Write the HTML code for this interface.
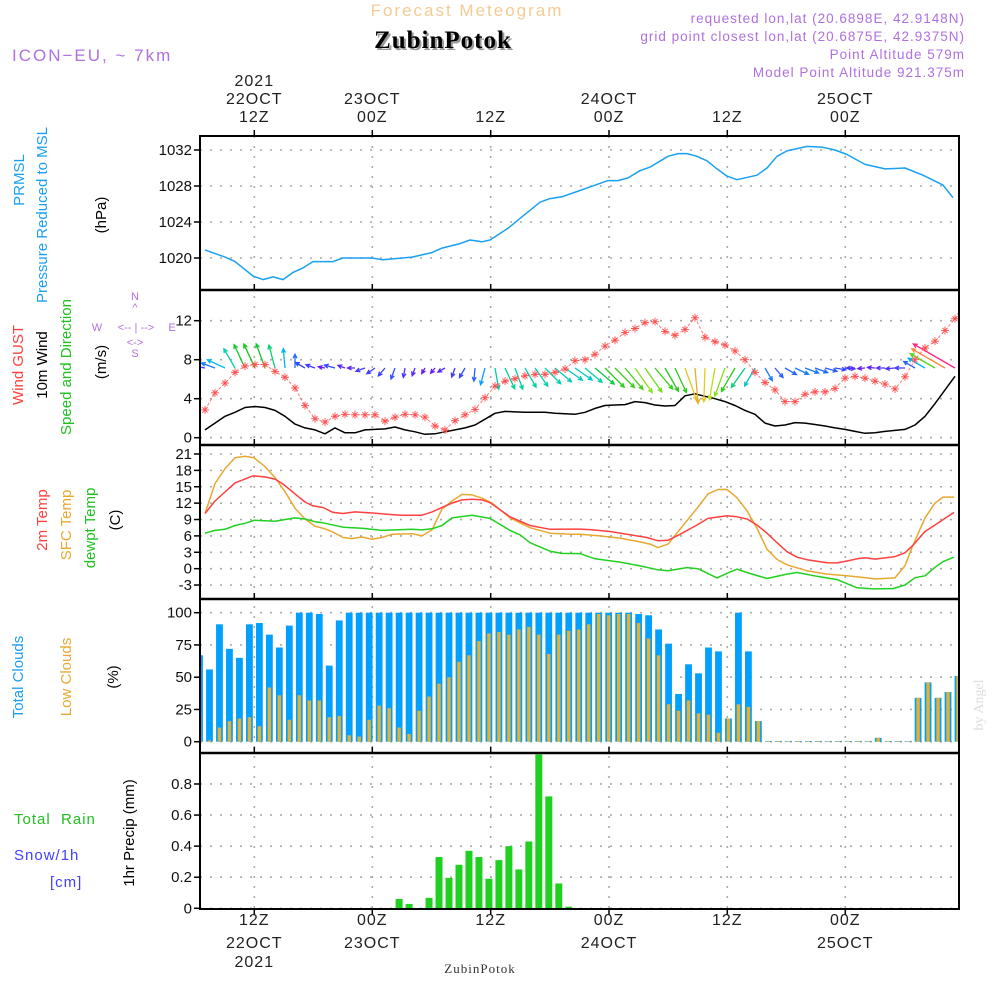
<!DOCTYPE html>
<html><head><meta charset="utf-8"><style>
html,body{margin:0;padding:0;background:#fff;}
svg{display:block;font-family:"Liberation Sans",sans-serif;}
</style></head><body>
<svg id="chart" width="1000" height="1000" viewBox="0 0 1000 1000" xmlns="http://www.w3.org/2000/svg">
<rect width="1000" height="1000" fill="#fff"/>
<g id="header">
<text x="467" y="16" text-anchor="middle" font-size="17" fill="#f3cc94" letter-spacing="2">Forecast Meteogram</text>
<text x="965" y="23" text-anchor="end" font-size="13.5" fill="#b070e0" letter-spacing="1">requested lon,lat (20.6898E, 42.9148N)</text>
<text x="965" y="41" text-anchor="end" font-size="13.5" fill="#b070e0" letter-spacing="1">grid point closest lon,lat (20.6875E, 42.9375N)</text>
<text x="445" y="50" text-anchor="middle" font-size="25" font-weight="bold" font-family="Liberation Serif,serif" fill="#999" letter-spacing="1">ZubinPotok</text>
<text x="443" y="48" text-anchor="middle" font-size="25" font-weight="bold" font-family="Liberation Serif,serif" fill="#000" letter-spacing="1">ZubinPotok</text>
<text x="965" y="59" text-anchor="end" font-size="13.5" fill="#b070e0" letter-spacing="1">Point Altitude 579m</text>
<text x="965" y="77" text-anchor="end" font-size="13.5" fill="#b070e0" letter-spacing="1">Model Point Altitude 921.375m</text>
<text x="12" y="61" font-size="17" fill="#b070e0" letter-spacing="2">ICON−EU, ~ 7km</text>
<text x="480" y="973" text-anchor="middle" font-size="13" font-family="Liberation Serif,serif" fill="#333" letter-spacing="1">ZubinPotok</text>
<text transform="translate(983,705) rotate(-90)" text-anchor="middle" font-size="14" font-family="Liberation Serif,serif" fill="#ddd">by Angel</text>
</g>
<g id="ylabels" font-size="15">
<text transform="translate(24,180) rotate(-90)" text-anchor="middle" fill="#1aa0f0">PRMSL</text>
<text transform="translate(47,215) rotate(-90)" text-anchor="middle" fill="#1aa0f0">Pressure Reduced to MSL</text>
<text transform="translate(106,215) rotate(-90)" text-anchor="middle" fill="#000">(hPa)</text>
<text transform="translate(23,365) rotate(-90)" text-anchor="middle" fill="#ff4040">Wind GUST</text>
<text transform="translate(47,365) rotate(-90)" text-anchor="middle" fill="#000">10m Wind</text>
<text transform="translate(71,367) rotate(-90)" text-anchor="middle" fill="#20c020">Speed and Direction</text>
<text transform="translate(106,362) rotate(-90)" text-anchor="middle" fill="#000">(m/s)</text>
<g font-size="11" fill="#b070e0" text-anchor="middle">
<text x="135" y="300">N</text><text x="135" y="311">^</text>
<text x="97" y="331">W</text><text x="136" y="331">&lt;-- | --&gt;</text><text x="172" y="331">E</text>
<text x="135" y="346">&lt;-&gt;</text><text x="135" y="357">S</text></g>
<text transform="translate(47,520) rotate(-90)" text-anchor="middle" fill="#ff4040">2m Temp</text>
<text transform="translate(71,525) rotate(-90)" text-anchor="middle" fill="#e8a830">SFC Temp</text>
<text transform="translate(95,528) rotate(-90)" text-anchor="middle" fill="#20c020">dewpt Temp</text>
<text transform="translate(120,520) rotate(-90)" text-anchor="middle" fill="#000">(C)</text>
<text transform="translate(23,677) rotate(-90)" text-anchor="middle" fill="#1aa0f0">Total Clouds</text>
<text transform="translate(71,677) rotate(-90)" text-anchor="middle" fill="#e8a830">Low Clouds</text>
<text transform="translate(118,677) rotate(-90)" text-anchor="middle" fill="#000">(%)</text>
<text x="14" y="824" fill="#20c020" letter-spacing="1" xml:space="preserve">Total  Rain</text>
<text x="14" y="860" fill="#4040ff" letter-spacing="1">Snow/1h</text>
<text x="50" y="887" fill="#4040ff" letter-spacing="1">[cm]</text>
<text transform="translate(134,833) rotate(-90)" text-anchor="middle" fill="#000">1hr Precip (mm)</text>
</g>
<g id="plot"></g>
</svg>
<script>
// ---- data ----
const tickTimes = [4.93, 16.73, 28.57, 40.4, 52.23, 64.03];
const tickHours = ["12Z","00Z","12Z","00Z","12Z","00Z"];
const tickDays = ["22OCT","23OCT","","24OCT","","25OCT"];
const tickYear = ["2021","","","","",""];

const pTimes = [0,2,3,4.8,5.8,6.8,7.8,8.8,9.8,10.8,12.8,13.8,16.7,17.8,20.7,22.7,23.7,25.5,26.5,27.7,28.5,30.3,31.5,33.5,34.5,35.7,37.5,38.5,40.3,41.3,42.3,43.5,44.5,46.3,47.3,48.2,49.2,50.2,51.2,52.2,53.2,55.2,56.2,57.2,58.2,60.2,61.8,63,64.2,66,68,70,71.8,73.8,74.8];
const pVals = [1020.9,1020.1,1019.6,1018.0,1017.6,1017.9,1017.6,1018.4,1018.9,1019.6,1019.6,1020.0,1020.0,1019.8,1020.1,1020.6,1021.1,1021.6,1022.0,1021.8,1022.0,1023.3,1024.4,1026.2,1026.6,1026.8,1027.5,1027.9,1028.6,1028.6,1028.9,1029.7,1030.1,1031.3,1031.6,1031.6,1031.3,1030.8,1029.9,1029.1,1028.7,1029.2,1030.0,1031.3,1031.9,1032.4,1032.3,1032.0,1031.5,1030.4,1029.9,1030.0,1029.2,1028.1,1026.7];
const pTicks = [1020,1024,1028,1032];

const windSpeed = [0.8,1.5,2.2,2.6,3.1,3.2,3.1,2.8,2.2,1.4,1.0,0.8,0.4,1.0,0.5,0.5,0.8,0.85,0.9,1.1,0.8,0.6,0.35,0.4,0.6,0.8,1.0,1.3,1.9,2.5,2.7,2.65,2.6,2.6,2.6,2.5,2.45,2.4,2.6,3.0,3.3,3.35,3.4,3.7,3.6,3.35,3.25,3.3,4.3,4.5,4.25,4.0,3.7,3.3,2.8,2.4,1.5,1.2,1.3,1.55,1.5,1.35,1.2,1.0,0.85,0.65,0.45,0.5,0.65,0.75,0.85,1.3,2.2,3.5,4.9,6.3];
const windGust = [2.85,4.6,5.6,6.7,7.35,7.5,7.5,6.8,6.2,5.1,3.3,1.95,1.6,2.2,2.4,2.35,2.35,2.35,1.7,2.1,2.4,2.35,2.1,1.2,0.8,1.75,2.35,2.9,4.1,5.3,5.8,6.05,6.35,6.5,6.5,6.7,7.05,7.9,8.0,8.55,9.4,10.0,10.8,11.2,11.8,11.9,10.9,10.5,11.1,12.3,10.3,9.85,9.5,8.9,8.0,6.7,5.65,4.9,3.7,3.7,4.45,4.7,4.7,5.05,6.1,6.3,6.1,5.8,5.5,5.0,6.25,8.0,9.2,9.9,11.0,12.2,14.0];
const windDir = [170,160,155,120,115,115,110,105,95,90,150,160,170,165,160,180,200,215,230,250,260,250,240,230,210,250,240,265,255,280,295,290,300,305,315,320,325,325,320,320,315,315,310,305,305,310,300,295,290,275,268,260,250,240,235,240,300,310,330,335,340,340,345,350,355,180,185,175,180,185,180,150,150,150,150,150];
const wTicks = [0,4,8,12];

const t2Times = [0,1,3,4.8,6,7,7.8,9,10,10.8,11.8,12.8,13.8,15,16.7,18.7,19.7,21.7,22.7,24.7,25.7,26.7,27.7,28.5,30.5,32.5,34.5,36.7,37.5,38.5,40.5,42.5,44.2,45.3,46.3,47.5,49.2,50.3,52.2,53.2,54.2,55.2,56.2,57.2,58.2,59.2,60.2,61.2,62.2,63.2,64.2,65.2,66,67,69,70,70.8,72,73,74.9];
const t2Vals = [10.1,12.4,15.7,17.0,16.8,16.4,15.5,13.7,12.2,11.5,11.2,10.3,10.1,10.4,10.2,9.9,9.8,9.8,10.4,12.0,12.6,12.7,12.6,12.1,9.5,7.9,7.2,7.25,7.25,7.15,6.8,6.2,5.7,5.1,5.2,6.3,8.0,9.2,9.7,9.5,9.1,8.0,6.5,4.75,3.1,2.1,1.65,1.35,1.1,1.05,1.4,1.8,2.0,1.75,2.2,2.9,4.3,6.8,8.0,10.3];
const sfcTimes = [0,1,2,3,4,4.9,6,7,8,9,10,11,12,12.8,13.8,14.7,15.7,16.7,17.7,18.7,20.7,21.7,22.7,23.7,24.7,25.7,26.7,27.7,28.7,30.5,32.5,34.5,36.7,37.5,39.5,41.5,43.5,44.5,45.3,46.3,47.5,49.2,50.3,51.3,52.2,53.2,54.2,55.2,56.2,57.2,58.2,60.2,62.2,64.2,66.2,67,69,70,70.8,72,73,73.8,74.9];
const sfcVals = [10.1,15.6,18.3,20.3,20.6,20.3,18.7,16.7,14.1,11.05,9.1,7.8,7.3,6.7,5.7,5.5,5.8,5.4,5.7,6.3,6.4,6.0,7.1,10.9,12.4,13.6,13.5,12.9,12.0,9.3,7.5,6.5,6.3,6.3,6.0,5.6,4.9,4.5,3.85,4.5,7.2,11.05,13.7,14.5,14.5,13.0,10.6,7.4,3.55,1.7,0.7,-0.4,-1.0,-1.3,-1.7,-1.9,-1.7,0.55,4.3,9.3,12.0,13.1,13.1];
const dewTimes = [0,1,2,3,4,4.9,7,9,10,11,11.8,13.8,15.7,17.7,20.7,21.7,22.7,23.7,24.7,26.7,28.5,30.5,31.5,32.5,34.5,35.7,37.5,39,41.5,43.5,45.3,46.3,48.2,49.3,51.2,52.2,53.2,54.2,56.2,58.2,59.2,61.2,63.2,65.2,66.8,68.8,70,71,72,73,73.8,74.9];
const dewVals = [6.5,7.0,7.2,7.9,8.3,8.85,8.7,9.3,9.1,8.6,8.4,7.6,7.4,7.0,7.2,7.1,7.3,7.9,9.3,9.8,9.2,7.0,6.2,4.75,3.2,2.8,2.75,1.8,1.2,0.5,-0.2,-0.4,0.2,0.0,-1.7,-0.85,-0.1,-0.7,-1.8,-1.0,-0.7,-1.4,-2.0,-3.5,-3.7,-3.65,-3.0,-1.65,-1.3,0.25,1.3,2.1];
const tTicks = [-3,0,3,6,9,12,15,18,21];

const totalClouds = [67,56,91,72,65,91,92,83,73,90,100,100,99,59,94,100,100,100,100,100,100,100,100,100,100,100,100,100,100,100,100,100,100,100,100,100,100,100,100,100,100,100,100,100,99,98,87,76,37,60,53,73,70,18,100,70,16,0.5,0.5,0.5,0.5,0.5,0.5,0.5,0.5,0.5,0.5,0.5,3,0.5,0.5,0.5,34,46,34,38.5,51];
const lowClouds = [20,1,11,16,18,19,12,42,36,17,36,32,32,19,20,5,4,17,28,26,11,6,24,35,45,50,62,67,78,84,85,83,87,89,83,68,83,86,87,91,99,98,99,99,92,80,67,29,24,32,22,21,7,18,29,27,16,0.5,0.5,0.5,0.5,0.5,0.5,0.5,0.5,0.5,0.5,0.5,3,0.5,0.5,0.5,34,46,34,38.5,51];
const cTicks = [0,25,50,75,100];

const precipIdx = [20,21,22,23,24,25,26,27,28,29,30,31,32,33,34,35,36,37];
const precipVals = [0.06,0.028,0,0.067,0.33,0.196,0.28,0.37,0.33,0.19,0.31,0.40,0.25,0.43,0.99,0.72,0.16,0.01];
const rTicks = [0,0.2,0.4,0.6,0.8];
const rTickLabels = ["0","0.2","0.4","0.6","0.8"];

// ---- axes ----
const L=200,R=959;
const X = j => 205 + 10*j;
const XB = i => X((i-0.55)*0.998);
const YP = v => 150 + (1032-v)*9;
const YW = v => 437.7 - v*9.75;
const YT = v => 454 + (21-v)*5.46;
const YC = v => 741.7 - v*1.29;
const YR = v => 908.3 - v*155.4;

const NS="http://www.w3.org/2000/svg";
const plot=document.getElementById('plot');
function el(tag,attrs,parent){const e=document.createElementNS(NS,tag);for(const k in attrs)e.setAttribute(k,attrs[k]);(parent||plot).appendChild(e);return e;}
function grp(name){const g=el('g',{});


return g;}

const defs=el('defs',{});
const cp=el('clipPath',{id:'clip'},defs);el('rect',{x:L,y:136,width:R-L,height:909-136},cp);

const grid=grp('gridlines');
function hgrid(ys,fn){ys.forEach(v=>{const y=fn(v);const l=el('line',{x1:L,x2:R,y1:y,y2:y,stroke:'#aaa','stroke-width':1.6,'stroke-dasharray':'2,8'},grid);

});}
hgrid(pTicks,YP);hgrid(wTicks,YW);hgrid(tTicks,YT);hgrid(cTicks,YC);hgrid(rTicks,YR);
tickTimes.forEach(t=>{const l=el('line',{x1:X(t),x2:X(t),y1:136,y2:909,stroke:'#aaa','stroke-width':1.6,'stroke-dasharray':'2,8'},grid);

});

const yax=grp('y-axes');
function yticks(vals,labels,fn,name){vals.forEach((v,i)=>{const y=fn(v);el('line',{x1:L-6,x2:L,y1:y,y2:y,stroke:'#000','stroke-width':1.5},yax);
const tx=el('text',{x:L-8,y:y+5,'text-anchor':'end','font-size':15,fill:'#111'},yax);tx.textContent=labels?labels[i]:String(v);

});}
yticks(pTicks,null,YP,'pressure');yticks(wTicks,null,YW,'wind');yticks(tTicks,null,YT,'temp');yticks(cTicks,null,YC,'cloud');yticks(rTicks,rTickLabels,YR,'precip');

const tax=grp('time-axis');
tickTimes.forEach((t,i)=>{const x=X(t);
 [[136,130],[290,284],[445,439],[599,593],[753,747]].forEach(([y0,y1])=>el('line',{x1:x,x2:x,y1:y0,y2:y1,stroke:'#000','stroke-width':1.5},tax));
 el('line',{x1:x,x2:x,y1:909,y2:915,stroke:'#000','stroke-width':1.5},tax);
 const rows=[[tickYear[i],86],[tickDays[i],104],[tickHours[i],122]];
 rows.forEach(([s,y])=>{if(!s)return;const tx=el('text',{x:x,y:y,'text-anchor':'middle','font-size':16,fill:'#222','letter-spacing':1},tax);tx.textContent=s;
 
 });
 const rows2=[[tickHours[i],925],[tickDays[i],948],[tickYear[i],967]];
 rows2.forEach(([s,y])=>{if(!s)return;const tx=el('text',{x:x,y:y,'text-anchor':'middle','font-size':16,fill:'#222','letter-spacing':1},tax);tx.textContent=s;
 
 });
});

const ser=el('g',{'clip-path':'url(#clip)'});


function line(ts,vs,fn,color,name,w,dash){const d=vs.map((v,i)=>(i?'L':'M')+X(ts[i]).toFixed(1)+','+fn(v).toFixed(1)).join('');
const a={d:d,fill:'none',stroke:color,'stroke-width':w||1.5,'stroke-linejoin':'round'};if(dash)a['stroke-dasharray']=dash;
const p=el('path',a,ser);

return p;}
line(pTimes,pVals,YP,'#1aa0f0','pressure-line');
const idx=windSpeed.map((_,i)=>i);
line(idx,windSpeed,YW,'#000','wind-speed-line');
const stops=[[0,[140,0,230]],[1,[50,70,255]],[2,[0,170,255]],[2.6,[0,210,170]],[3.2,[20,200,20]],[3.8,[160,225,30]],[4.2,[225,210,30]],[4.6,[240,160,40]],[5.5,[255,90,90]],[6.5,[255,20,140]]];
function scol(s){for(let k=1;k<stops.length;k++){if(s<=stops[k][0]){const [a,ca]=stops[k-1],[b,cb]=stops[k];const f=(s-a)/(b-a);return 'rgb('+ca.map((c,m)=>Math.round(c+(cb[m]-c)*f)).join(',')+')';}}return 'rgb(255,20,140)';}
const arrows=el('g',{},ser);


windDir.forEach((d,i)=>{const s=windSpeed[i];const len=4+7*s;const a=d*Math.PI/180;const x0=X(i),y0=368;const x1=x0+len*Math.cos(a),y1=y0-len*Math.sin(a);
 const c=scol(s);const h=4.5;const b1=a+Math.PI-0.45,b2=a+Math.PI+0.45;
 const p=el('path',{d:`M${x0},${y0}L${x1},${y1}M${x1+h*Math.cos(b1)},${y1-h*Math.sin(b1)}L${x1},${y1}L${x1+h*Math.cos(b2)},${y1-h*Math.sin(b2)}`,stroke:c,'stroke-width':1.3,fill:'none'},arrows);
 
 });
const gidx=windGust.map((_,i)=>i);
line(gidx,windGust,YW,'rgba(255,80,80,0.75)','gust-line',1,'3,2');
windGust.forEach((v,i)=>{const x=X(i),y=YW(v),r=4;
 const m=el('path',{d:`M${x-r},${y}L${x+r},${y}M${x},${y-r}L${x},${y+r}M${x-2.6},${y-2.6}L${x+2.6},${y+2.6}M${x-2.6},${y+2.6}L${x+2.6},${y-2.6}`,stroke:'#ff5050','stroke-width':0.9},ser);
 
 });
line(sfcTimes,sfcVals,YT,'#e8a830','sfc-temp-line');
line(t2Times,t2Vals,YT,'#ff4040','t2m-line');
line(dewTimes,dewVals,YT,'#20d020','dewpoint-line');
totalClouds.forEach((v,i)=>{const x=XB(i);const r=el('rect',{x:x-3.4,y:YC(v),width:6.8,height:YC(0)-YC(v),fill:'#00a0ff'},ser);
 
 });
lowClouds.forEach((v,i)=>{const x=XB(i);const r=el('rect',{x:x-1.7,y:YC(v),width:3.4,height:YC(0)-YC(v),fill:'#e8b030'},ser);
 
 });
precipIdx.forEach((i,k)=>{const v=precipVals[k];if(v<=0)return;const x=XB(i);const r=el('rect',{x:x-3.5,y:YR(v),width:7,height:YR(0)-YR(v),fill:'#20d020'},ser);
 
 });

const fr=grp('panel-frames');
el('rect',{x:L,y:136,width:R-L,height:909-136,fill:'none',stroke:'#000','stroke-width':2},fr);
[290,445,599,753].forEach(y=>el('line',{x1:L,x2:R,y1:y,y2:y,stroke:'#000','stroke-width':2.5},fr));
</script>
</body></html>
